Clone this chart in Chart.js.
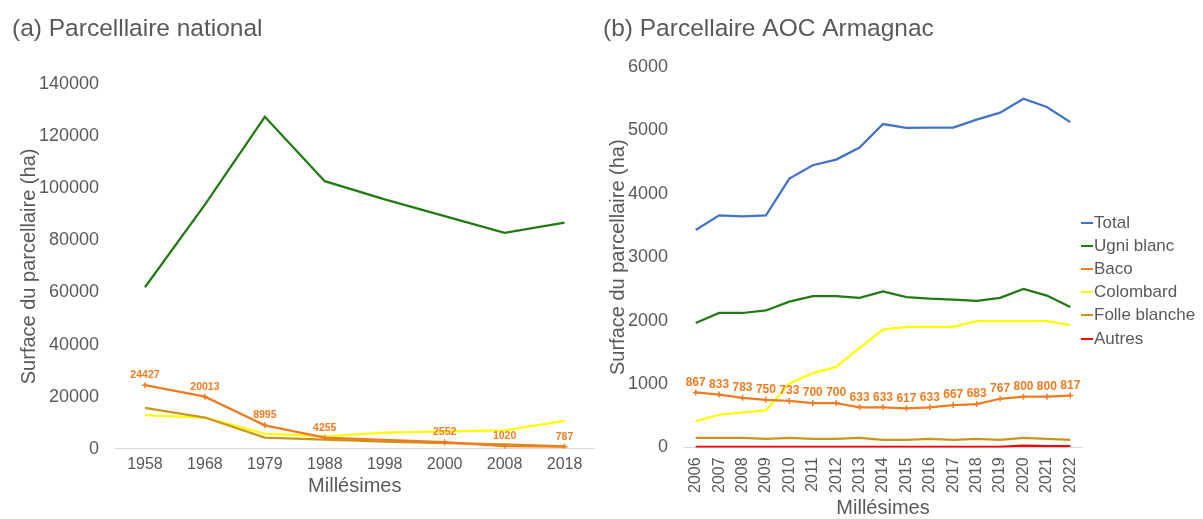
<!DOCTYPE html>
<html>
<head>
<meta charset="utf-8">
<script src="https://cdn.jsdelivr.net/npm/chart.js@4.4.1/dist/chart.umd.min.js"></script>
<style>
    body { margin: 0; background: #fff; width: 1203px; height: 519px; overflow: hidden; position: relative; font-family: 'Liberation Sans', Arial, sans-serif; }
    #nationalChart { position: absolute; left: 0; top: 0; }
    #armagnacChart { position: absolute; left: 600px; top: 0; }
    #legende { position: absolute; left: 1081px; top: 211px; color: #595959; font-size: 17px; }
    #legende .item { height: 23.2px; display: flex; align-items: center; white-space: nowrap; }
    #legende .trait { width: 12px; height: 2px; margin-right: 1px; }
</style>
</head>
<body>
<canvas id="nationalChart" width="600" height="519"></canvas>
<canvas id="armagnacChart" width="490" height="519"></canvas>
<div id="legende"></div>
<script>
// (a) Parcellaire national
const anneesNational = ['1958', '1968', '1979', '1988', '1998', '2000', '2008', '2018'];
const ugniNational = [62000, 93700, 127400, 102700, 95700, 89300, 82900, 86800];
const bacoNational = [24427, 20013, 8995, 4255, null, 2552, 1020, 787];
const colombardNational = [12900, 12000, 5800, 4800, 6200, 6700, 7100, 10700];
const folleNational = [15700, 12000, 4300, 3500, 2800, 2200, 1700, 900];

// (b) Parcellaire AOC Armagnac
const anneesArmagnac = ['2006', '2007', '2008', '2009', '2010', '2011', '2012', '2013', '2014',
    '2015', '2016', '2017', '2018', '2019', '2020', '2021', '2022'];
const totalArmagnac = [3430, 3660, 3645, 3660, 4240, 4450, 4540, 4730, 5100, 5040, 5045, 5045, 5170, 5280, 5500, 5370, 5130];
const ugniArmagnac = [1963, 2120, 2120, 2160, 2300, 2385, 2385, 2360, 2460, 2370, 2345, 2330, 2310, 2360, 2500, 2395, 2215];
const bacoArmagnac = [867, 833, 783, 750, 733, 700, 700, 633, 633, 617, 633, 667, 683, 767, 800, 800, 817];
const colombardArmagnac = [415, 515, 552, 583, 1010, 1172, 1270, 1570, 1858, 1900, 1900, 1900, 1990, 1990, 1990, 1990, 1930];
const folleArmagnac = [150, 150, 150, 133, 150, 133, 133, 150, 117, 117, 133, 117, 133, 117, 150, 133, 117];
const autresArmagnac = [10, 8, 8, 8, 8, 8, 8, 8, 8, 8, 10, 10, 10, 10, 30, 20, 20];

const gris = '#595959';
const couleurs = {
    total: '#4472C4',
    ugni: '#217A12',
    baco: '#F07C22',
    colombard: '#FFFF00',
    folle: '#C8961E',
    autres: '#FF0000'
};

Chart.defaults.font.family = "'Liberation Sans', Arial, sans-serif";
Chart.defaults.color = gris;

// valeurs affichées au-dessus des points (Baco)
const etiquettesPlugin = {
    id: 'etiquettes',
    afterDatasetsDraw(chart, args, opts) {
        const ctx = chart.ctx;
        chart.data.datasets.forEach(function(ds, i) {
            if (!ds.afficherValeurs) return;
            const meta = chart.getDatasetMeta(i);
            ctx.save();
            ctx.font = 'bold ' + opts.size + "px 'Liberation Sans', Arial, sans-serif";
            ctx.fillStyle = ds.borderColor;
            ctx.textAlign = 'center';
            ctx.textBaseline = 'middle';
            meta.data.forEach(function(pt, j) {
                const v = ds.data[j];
                if (v === null || v === undefined) return;
                ctx.fillText(String(v), pt.x, pt.y - opts.offset);
            });
            ctx.restore();
        });
    }
};

function serie(label, data, couleur) {
    return {
        label: label,
        data: data,
        borderColor: couleur,
        backgroundColor: couleur,
        borderWidth: 2.25,
        pointRadius: 0,
        tension: 0,
        spanGaps: true
    };
}

function serieBaco(data) {
    const ds = serie('Baco', data, couleurs.baco);
    ds.pointStyle = 'cross';
    ds.pointRadius = 3;
    ds.pointBorderWidth = 1.5;
    ds.afficherValeurs = true;
    return ds;
}

function sansPaddingX(scale) {
    scale.paddingLeft = 0;
    scale.paddingRight = 0;
}

function nombre(value) {
    return String(value);
}

const nationalChart = new Chart(document.getElementById('nationalChart'), {
    type: 'line',
    data: {
        labels: anneesNational,
        datasets: [
            serie('Ugni blanc', ugniNational, couleurs.ugni),
            serieBaco(bacoNational),
            serie('Folle blanche', folleNational, couleurs.folle),
            serie('Colombard', colombardNational, couleurs.colombard)
        ]
    },
    options: {
        responsive: false,
        animation: false,
        layout: { padding: { left: 12, right: -3, top: 0, bottom: 21 } },
        plugins: {
            legend: { display: false },
            tooltip: { enabled: false },
            title: {
                display: true,
                text: '(a) Parcelllaire national',
                align: 'start',
                color: gris,
                font: { size: 24.5, weight: 'normal' },
                padding: { top: 15, bottom: 39.6 }
            },
            etiquettes: { size: 10.5, offset: 10 }
        },
        scales: {
            x: {
                offset: true,
                grid: { display: false, drawTicks: false },
                border: { display: true, color: '#d9d9d9', width: 1 },
                ticks: { padding: 6, font: { size: 16 }, color: gris },
                title: { display: true, text: 'Millésimes', color: gris, font: { size: 20 }, padding: { top: -6, bottom: 0 } },
                afterFit: sansPaddingX
            },
            y: {
                min: 0,
                max: 140000,
                grid: { display: false, drawTicks: false },
                border: { display: false },
                ticks: { stepSize: 20000, padding: 16, font: { size: 18 }, color: gris, callback: nombre },
                title: { display: true, text: 'Surface du parcellaire (ha)', color: gris, font: { size: 20 }, padding: { top: 5, bottom: 0 } },
                afterFit: function(scale) { scale.width = 103; }
            }
        }
    },
    plugins: [etiquettesPlugin]
});

const armagnacChart = new Chart(document.getElementById('armagnacChart'), {
    type: 'line',
    data: {
        labels: anneesArmagnac,
        datasets: [
            serie('Total', totalArmagnac, couleurs.total),
            serie('Ugni blanc', ugniArmagnac, couleurs.ugni),
            serieBaco(bacoArmagnac),
            serie('Colombard', colombardArmagnac, couleurs.colombard),
            serie('Folle blanche', folleArmagnac, couleurs.folle),
            serie('Autres', autresArmagnac, couleurs.autres)
        ]
    },
    options: {
        responsive: false,
        animation: false,
        layout: { padding: { left: 3, right: 8, top: 0, bottom: 0 } },
        plugins: {
            legend: { display: false },
            tooltip: { enabled: false },
            title: {
                display: true,
                text: '(b) Parcellaire AOC Armagnac',
                align: 'start',
                color: gris,
                font: { size: 24.5, weight: 'normal' },
                padding: { top: 15, bottom: 22.6 }
            },
            etiquettes: { size: 12, offset: 10 }
        },
        scales: {
            x: {
                offset: true,
                grid: { display: false, drawTicks: false },
                border: { display: true, color: '#d9d9d9', width: 1 },
                ticks: { padding: 10, minRotation: 90, maxRotation: 90, autoSkip: false, font: { size: 16 }, color: gris },
                title: { display: true, text: 'Millésimes', color: gris, font: { size: 20 }, padding: { top: -7, bottom: -1 } },
                afterFit: sansPaddingX
            },
            y: {
                min: 0,
                max: 6000,
                grid: { display: false, drawTicks: false },
                border: { display: false },
                ticks: { stepSize: 1000, padding: 16, font: { size: 18 }, color: gris, callback: nombre },
                title: { display: true, text: 'Surface du parcellaire (ha)', color: gris, font: { size: 20 }, padding: { top: 3, bottom: 0 } },
                afterFit: function(scale) { scale.width = 81; }
            }
        }
    },
    plugins: [etiquettesPlugin]
});

// légende HTML construite à partir des séries du graphique (b)
const legende = document.getElementById('legende');
armagnacChart.data.datasets.forEach(function(ds) {
    const item = document.createElement('div');
    item.className = 'item';
    const trait = document.createElement('span');
    trait.className = 'trait';
    trait.style.background = ds.borderColor;
    item.appendChild(trait);
    item.appendChild(document.createTextNode(ds.label));
    legende.appendChild(item);
});
</script>
</body>
</html>
